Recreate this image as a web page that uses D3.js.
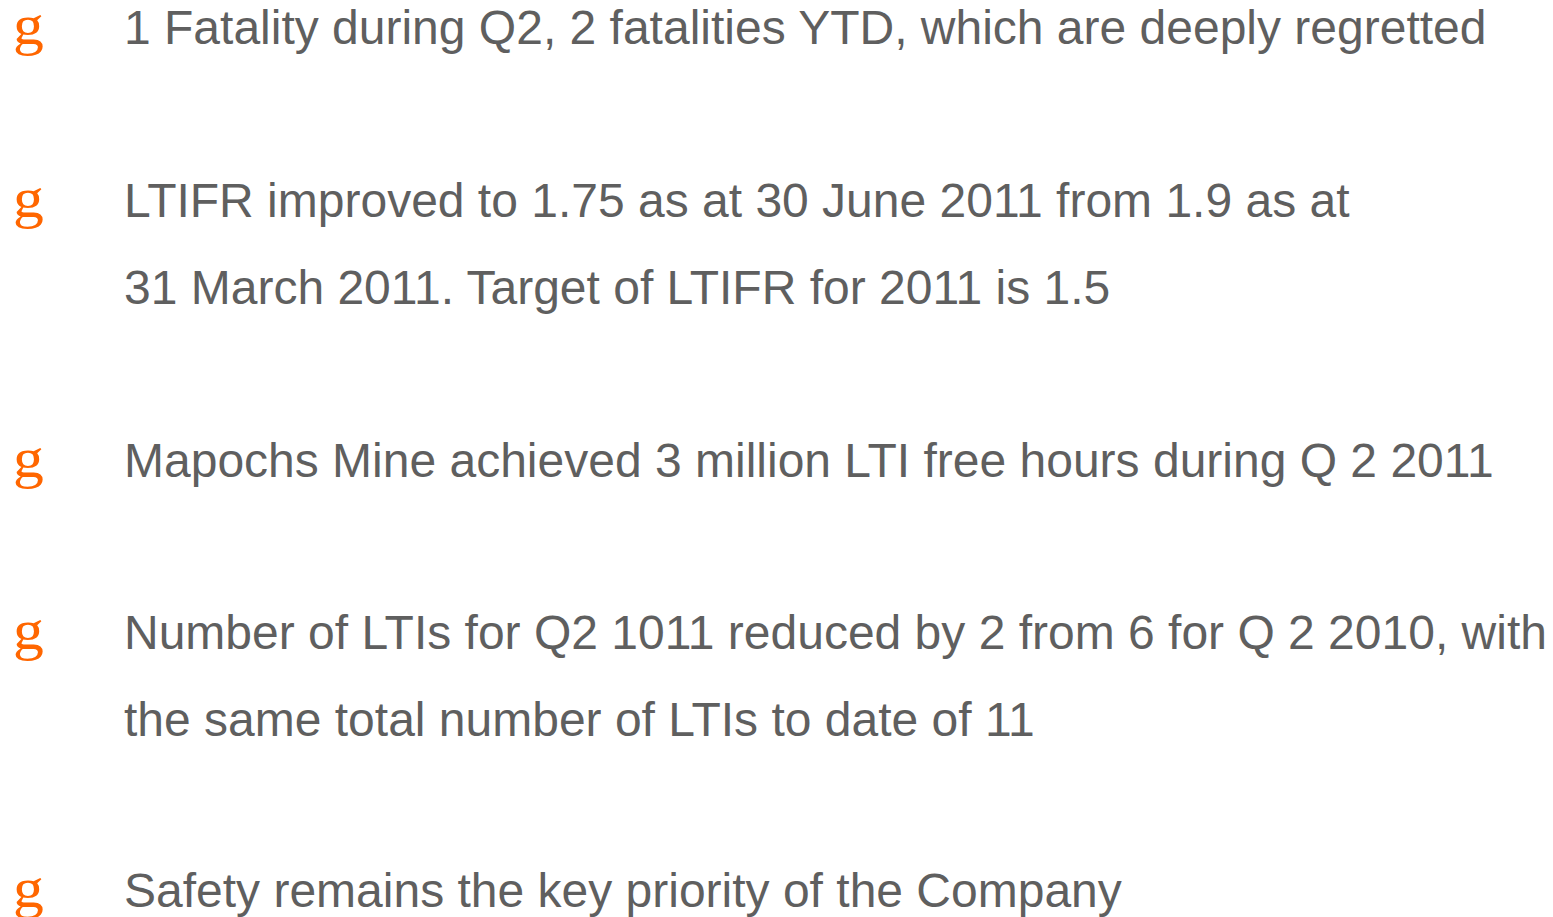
<!DOCTYPE html>
<html><head><meta charset="utf-8">
<script src="https://cdn.jsdelivr.net/npm/d3@7"></script>
<style>html,body{margin:0;padding:0;background:#fff;overflow:hidden}</style>
</head><body>
<svg id="c" width="1553" height="917"></svg>
<script>
const bullets = [
  ["1 Fatality during Q2, 2 fatalities YTD, which are deeply regretted"],
  ["LTIFR improved to 1.75 as at 30 June 2011 from 1.9 as at", "31 March 2011. Target of LTIFR for 2011 is 1.5"],
  ["Mapochs Mine achieved 3 million LTI free hours during Q 2 2011"],
  ["Number of LTIs for Q2 1011 reduced by 2 from 6 for Q 2 2010, with", "the same total number of LTIs to date of 11"],
  ["Safety remains the key priority of the Company"]
];
const bulletBaselines = [44, 217, 477, 649, 907];
const lineStep = 87;

const svg = d3.select("#c");
const g = svg.selectAll("g.b").data(bullets).join("g").attr("class","b")
  .attr("transform",(d,i)=>`translate(0,${bulletBaselines[i]})`);
g.append("text").attr("transform","translate(13,0) scale(1.1,1)")
  .attr("font-family","Liberation Serif, serif").attr("font-size",56)
  .attr("fill","#FF6600").text("g");
g.selectAll("text.t").data(d=>d).join("text").attr("class","t")
  .attr("x",124).attr("y",(d,i)=>i*lineStep)
  .attr("font-family","Liberation Sans, Arial, sans-serif").attr("font-size",48)
  .attr("fill","#5F5F5F").text(d=>d);
</script>
</body></html>
